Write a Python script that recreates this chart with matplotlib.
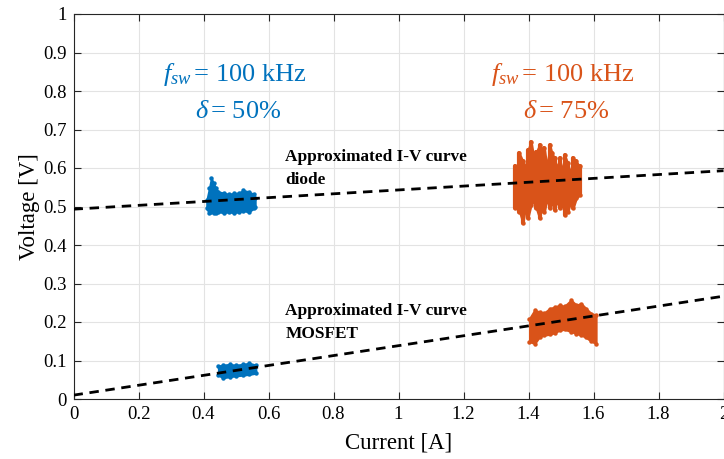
import numpy as np
import matplotlib as mpl
import matplotlib.pyplot as plt

mpl.use("agg")
mpl.rcParams.update(
    {
        "font.family": ["Liberation Serif", "DejaVu Serif"],
        "mathtext.fontset": "custom",
        "mathtext.rm": "Liberation Serif",
        "mathtext.it": "Liberation Serif:italic",
        "mathtext.bf": "Liberation Serif:bold",
    }
)

BLUE = "#0072BD"
ORANGE = "#D95319"

# measured clusters, read off as columns: current, upper and lower voltage
# 50 % duty, diode
i_d50 = [0.410, 0.418, 0.424, 0.431, 0.438, 0.446, 0.462, 0.477, 0.493, 0.508, 0.523, 0.539, 0.554, 0.559]
vhi_d50 = [0.516, 0.547, 0.573, 0.560, 0.547, 0.538, 0.535, 0.532, 0.534, 0.535, 0.542, 0.538, 0.532, 0.521]
vlo_d50 = [0.495, 0.482, 0.486, 0.484, 0.482, 0.486, 0.484, 0.486, 0.484, 0.486, 0.489, 0.486, 0.495, 0.500]
# 50 % duty, mosfet
i_m50 = [0.446, 0.460, 0.480, 0.500, 0.520, 0.541, 0.561]
vhi_m50 = [0.086, 0.088, 0.090, 0.088, 0.090, 0.093, 0.088]
vlo_m50 = [0.062, 0.055, 0.058, 0.060, 0.062, 0.064, 0.067]
# 75 % duty, diode
i_d75 = [1.357, 1.366, 1.372, 1.383, 1.391, 1.398, 1.408, 1.416, 1.424, 1.434, 1.441, 1.449, 1.457,
         1.465, 1.472, 1.480, 1.488, 1.496, 1.504, 1.511, 1.521, 1.529, 1.537, 1.547, 1.557]
vhi_d75 = [0.604, 0.590, 0.638, 0.617, 0.600, 0.647, 0.668, 0.630, 0.642, 0.660, 0.620, 0.651, 0.600,
           0.660, 0.640, 0.625, 0.600, 0.625, 0.590, 0.634, 0.612, 0.585, 0.625, 0.617, 0.604]
vlo_d75 = [0.495, 0.520, 0.487, 0.457, 0.500, 0.470, 0.504, 0.515, 0.495, 0.470, 0.500, 0.487, 0.520,
           0.495, 0.510, 0.491, 0.515, 0.495, 0.505, 0.478, 0.487, 0.510, 0.495, 0.521, 0.530]
# 75 % duty, mosfet
i_m75 = [1.403, 1.419, 1.434, 1.449, 1.465, 1.480, 1.496, 1.511, 1.531, 1.547, 1.562, 1.577, 1.593, 1.608]
vhi_m75 = [0.209, 0.231, 0.226, 0.224, 0.235, 0.239, 0.244, 0.241, 0.257, 0.244, 0.248, 0.235, 0.222, 0.218]
vlo_m75 = [0.149, 0.144, 0.162, 0.166, 0.168, 0.172, 0.179, 0.181, 0.175, 0.170, 0.166, 0.160, 0.150, 0.144]

# approximated I-V curves (end points at 0 A and 2 A)
i_fit = [0.0, 2.0]
v_fit_diode = [0.493, 0.593]
v_fit_mosfet = [0.010, 0.267]

xticks = np.arange(0, 2.01, 0.2)
yticks = np.arange(0, 1.01, 0.1)

fig = plt.figure(figsize=(7.24, 4.59), dpi=100)
ax = fig.add_axes([73.5 / 724, 60 / 459, 650 / 724, 385 / 459])

for x, hi, lo, c in [
    (i_d50, vhi_d50, vlo_d50, BLUE),
    (i_m50, vhi_m50, vlo_m50, BLUE),
    (i_d75, vhi_d75, vlo_d75, ORANGE),
    (i_m75, vhi_m75, vlo_m75, ORANGE),
]:
    ax.fill_between(x, lo, hi, color=c, lw=1.5, edgecolor=c, zorder=2)
    # dots along the edges, the raw data are single samples
    ax.plot(x, hi, "o", color=c, ms=3.2, mew=0, zorder=2)
    ax.plot(x, lo, "o", color=c, ms=3.2, mew=0, zorder=2)

ax.vlines(i_d75, vlo_d75, vhi_d75, color=ORANGE, lw=3.0, capstyle="round", zorder=2)

dash = (0, (3.4, 2.4))
ax.plot(i_fit, v_fit_diode, color="k", lw=2.0, ls=dash, zorder=3)
ax.plot(i_fit, v_fit_mosfet, color="k", lw=2.0, ls=dash, zorder=3)

ax.text(0.652, 0.629, "Approximated I-V curve", fontsize=12.4, fontweight="bold", va="center")
ax.text(0.652, 0.570, "diode", fontsize=12.4, fontweight="bold", va="center")
ax.text(0.652, 0.228, "Approximated I-V curve", fontsize=12.4, fontweight="bold", va="center")
ax.text(0.652, 0.168, "MOSFET", fontsize=12.4, fontweight="bold", va="center")

ax.text(0.276, 0.843, r"$f_{sw}\,$= 100 kHz", fontsize=19, color=BLUE, va="center")
ax.text(0.374, 0.745, r"$\delta\,$= 50%", fontsize=19, color=BLUE, va="center")
ax.text(1.284, 0.843, r"$f_{sw}\,$= 100 kHz", fontsize=19, color=ORANGE, va="center")
ax.text(1.382, 0.745, r"$\delta\,$= 75%", fontsize=19, color=ORANGE, va="center")

ax.set_xlim(0, 2)
ax.set_ylim(0, 1)
ax.set_xticks(xticks)
ax.set_yticks(yticks)
ax.set_xticklabels([f"{v:g}" for v in xticks])
ax.set_yticklabels([f"{v:g}" for v in yticks])
ax.tick_params(direction="in", top=True, right=True, labelsize=13.5, length=5,
               width=0.8, color="#262626", pad=5)
ax.grid(True, color="#e3e3e3", lw=0.8)
ax.set_axisbelow(True)
for s in ax.spines.values():
    s.set_color("#262626")
    s.set_linewidth(0.8)

ax.set_xlabel("Current [A]", fontsize=16.5, labelpad=7)
ax.set_ylabel("Voltage [V]", fontsize=16.5, labelpad=2)

plt.savefig("out.png", dpi=100)
